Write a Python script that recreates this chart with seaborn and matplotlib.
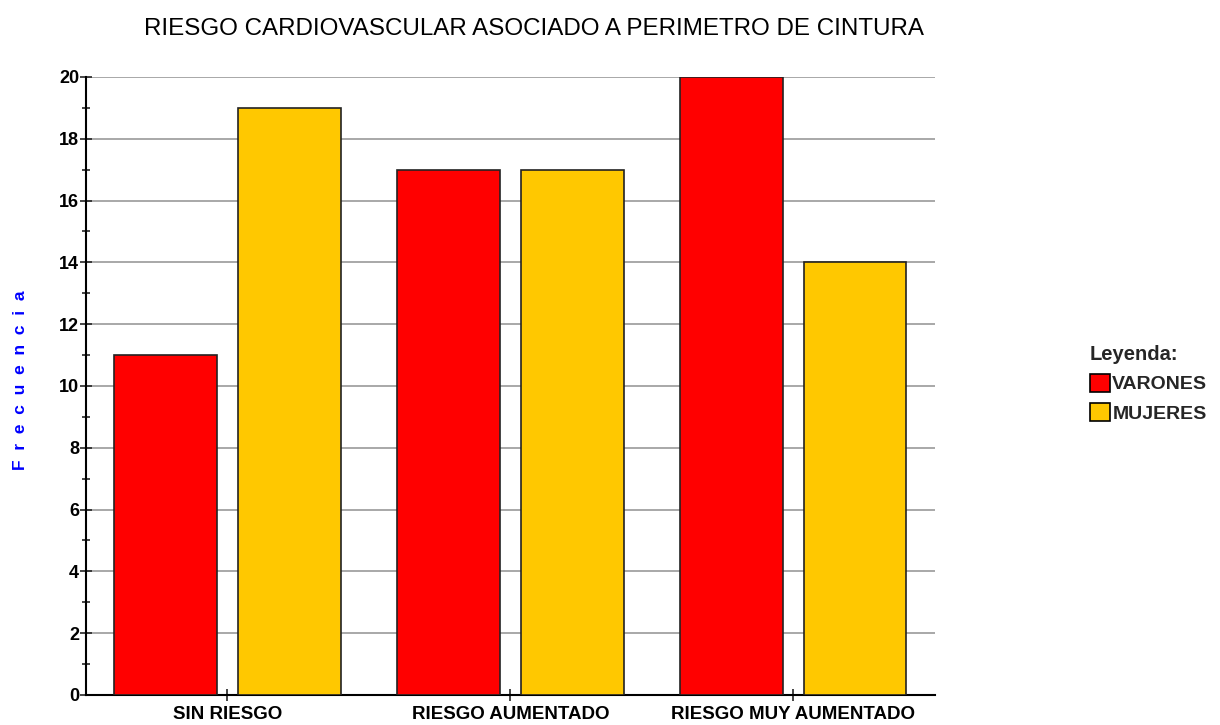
import pandas as pd
import matplotlib
matplotlib.use("Agg")
import matplotlib.pyplot as plt
import seaborn as sns
from matplotlib.ticker import MultipleLocator

# Data
categorias = ["SIN RIESGO", "RIESGO AUMENTADO", "RIESGO MUY AUMENTADO"]
varones = [11, 17, 20]
mujeres = [19, 17, 14]
grupos = ["VARONES", "MUJERES"]
colores = ["#FF0000", "#FFC800"]

df = pd.DataFrame({
    "categoria": categorias * 2,
    "grupo": [grupos[0]] * 3 + [grupos[1]] * 3,
    "frecuencia": varones + mujeres,
})

sns.set_style("white")
plt.rcParams["font.family"] = ["Liberation Sans", "DejaVu Sans"]

fig = plt.figure(figsize=(12.2, 7.25), dpi=100)
ax = fig.add_axes([0.0705, 0.0414, 0.6955, 0.8524])

sns.barplot(data=df, x="categoria", y="frecuencia", hue="grupo",
            order=categorias, hue_order=grupos, palette=colores,
            width=0.876, gap=0.17, edgecolor="#222222", linewidth=1.2,
            saturation=1, ax=ax, zorder=3)

ax.set_ylim(0, 20)
ax.set_xlim(-0.5, 2.5)
ax.yaxis.set_major_locator(MultipleLocator(2))
ax.yaxis.set_minor_locator(MultipleLocator(1))
ax.grid(axis="y", which="major", color="#999999", linewidth=1.2, zorder=0)
ax.set_axisbelow(True)

for s in ["top", "right"]:
    ax.spines[s].set_visible(False)
for s in ["left", "bottom"]:
    ax.spines[s].set_color("black")
    ax.spines[s].set_linewidth(1.5)

ax.tick_params(axis="y", which="major", direction="inout", length=8, width=1.2,
               labelsize=13, left=True, pad=1)
ax.tick_params(axis="y", which="minor", direction="inout", length=6, width=1.2, left=True)
ax.tick_params(axis="x", direction="inout", length=8, width=1.2, labelsize=13.5,
               bottom=True, pad=4)
for lbl in ax.get_xticklabels() + ax.get_yticklabels():
    lbl.set_fontweight("bold")
    lbl.set_color("black")

ax.set_xlabel("")
ax.set_ylabel("F  r  e  c  u  e  n  c  i  a", color="#0000FF", fontweight="bold",
              fontsize=12.5)
ax.yaxis.set_label_coords(-0.068, 0.51)

fig.suptitle("RIESGO CARDIOVASCULAR ASOCIADO A PERIMETRO DE CINTURA",
             x=0.438, y=0.975, fontsize=17.4, color="black")

ax.legend_.remove()
handles = [plt.Rectangle((0, 0), 1, 1, facecolor=c, edgecolor="black", linewidth=1.2)
           for c in colores]
leg = fig.legend(handles, grupos, title="Leyenda:", loc="upper left",
                 bbox_to_anchor=(0.887, 0.535), frameon=False,
                 fontsize=14, title_fontproperties={"weight": "bold", "size": 14.5},
                 handlelength=1.05, handleheight=1.05, handletextpad=0.1,
                 labelspacing=0.5, alignment="left", borderaxespad=0)
for t in leg.get_texts():
    t.set_fontweight("bold")

fig.savefig("out.png", dpi=100)
